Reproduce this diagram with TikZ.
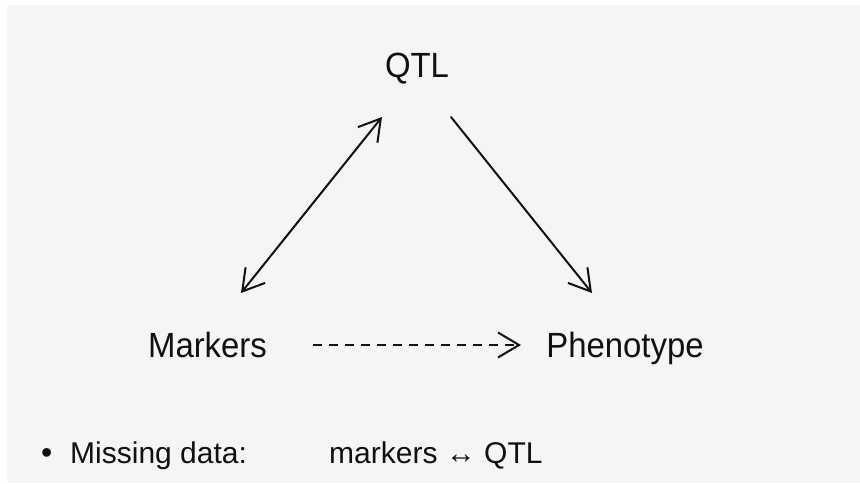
\documentclass[tikz,border=0pt]{standalone}
\usepackage{fontspec}
\setmainfont{Liberation Sans}
\newfontfamily\narrowsans[FakeStretch=0.94]{Liberation Sans}
\usetikzlibrary{arrows.meta}
\definecolor{bgray}{HTML}{F5F5F5}
\definecolor{ink}{HTML}{111111}
\tikzset{
  lbl/.style={inner sep=0pt, anchor=base, text=ink, font=\narrowsans\fontsize{35}{38}\selectfont},
  btxt/.style={inner sep=0pt, anchor=base west, text=ink, font=\fontsize{30}{34}\selectfont},
  conn/.style={draw=ink, line width=2pt, line cap=round,
    arrows={-Straight Barb[length=21pt,width=25pt,line width=2pt]}},
  dconn/.style={conn, line cap=butt, dash pattern=on 9pt off 7pt},
}
\begin{document}
\begin{tikzpicture}[x=1pt,y=-1pt]
\useasboundingbox (0,0) rectangle (860,483);
\fill[white] (0,0) rectangle (860,483);
\fill[bgray] (7,5) rectangle (860,483);
% nodes
\node[lbl] (qtl) at (417,77) {QTL};
\node[lbl] (markers) at (207.5,357) {Markers};
\node[lbl] (pheno) at (625,357) {Phenotype};
% connector ends
\coordinate (mqA) at (241,293);
\coordinate (mqB) at (382,117);
\coordinate (qpA) at (451,117);
\coordinate (qpB) at (592,293);
\coordinate (mpA) at (313,345);
\coordinate (mpB) at (521,345);
\draw[conn, arrows={Straight Barb[length=21pt,width=25pt,line width=2pt]-Straight Barb[length=21pt,width=25pt,line width=2pt]}] (mqA) -- (mqB);
\draw[conn] (qpA) -- (qpB);
\draw[dconn] (mpA) -- (mpB);
% bottom line
\node[btxt, font=\fontsize{32}{34}\selectfont] (bul) at (41,463) {•};
\node[btxt] (miss) at (70,463) {Missing data:};
\node[btxt] (mq) at (329,463) {markers ↔ QTL};
\end{tikzpicture}
\end{document}
